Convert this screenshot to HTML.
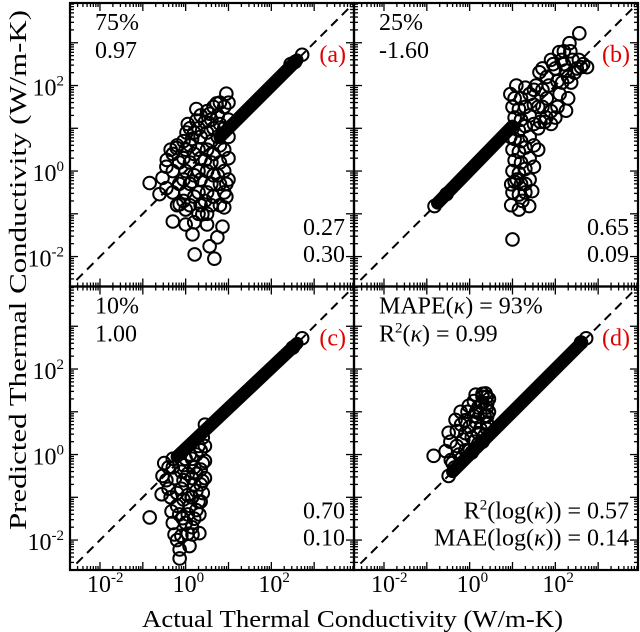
<!DOCTYPE html>
<html><head><meta charset="utf-8"><style>
html,body{margin:0;padding:0;background:#fff;}
svg{display:block;font-family:"Liberation Serif",serif;}
</style></head><body>
<svg id="chart" width="640" height="632" viewBox="0 0 640 632"></svg>
<script>
// data in log10(W/m-K)
const tickExps = [-2, 0, 2];
const allDecades = [-3, -2, -1, 0, 1, 2, 3];
const panelLetters = ["(a)", "(b)", "(c)", "(d)"];
const panelTopText = [["75%", "0.97"], ["25%", "-1.60"], ["10%", "1.00"], ["MAPE(<tspan font-style='italic'>κ</tspan>) = 93%", "R<tspan dy='-9' font-size='15'>2</tspan><tspan dy='9'>(</tspan><tspan font-style='italic'>κ</tspan>) = 0.99"]];
const panelBottomText = [["0.27", "0.30"], ["0.65", "0.09"], ["0.70", "0.10"], ["R<tspan dy='-9' font-size='15'>2</tspan><tspan dy='9'>(log(</tspan><tspan font-style='italic'>κ</tspan>)) = 0.57", "MAE(log(<tspan font-style='italic'>κ</tspan>)) = 0.14"]];
const bandA = [[0.8, 0.8], [2.6, 2.6]];
const bandB = [[-0.75, -0.75], [1.0, 1.05]];
const bandC = [[-0.2, -0.05], [2.6, 2.6]];
const bandD = [[-0.4, -0.4], [2.6, 2.6]];
const ptsAx = [-0.84,-0.44,-0.54,-0.61,-0.30,0.0,0.16,0.21,0.56,0.67,0.74,0.86,0.9,0.95,0.95,0.25,0.02,-0.21,0.56,0.72,-0.14,0.39,-0.3,-0.3,-0.3,0.0,0.0,0.0,0.0,0.3,0.3,0.3,0.3,0.3,0.6,0.6,0.6,0.6,0.6,0.9,0.9,0.9,0.9,0.9,0.15,0.45,0.75,0.15,0.45,0.75,-0.15,-0.15,0.45,0.75,1.0,1.0,1.0,0.2,0.5,
 -0.45,-0.45,-0.2,-0.2,-0.05,-0.05,-0.05,-0.05,0.1,0.1,0.1,0.1,0.1,0.2,0.2,0.2,0.2,0.35,0.35,0.35,0.35,0.35,0.5,0.5,0.5,0.5,0.5,0.5,0.65,0.65,0.65,0.65,0.65,0.8,0.8,0.8,0.8,0.8,0.8,1.0,1.0,0.95,0.25,0.05,-0.35,
 2.72,2.55,2.45];
const ptsAy = [-0.28,0.26,-0.16,-0.54,-1.18,-1.25,-1.48,-1.95,-1.76,-2.05,-1.55,-1.3,-0.85,-0.3,1.81,1.18,0.9,0.54,1.34,1.58,-0.78,-1.01,0.0,-0.5,0.4,0.5,0.0,-0.5,-0.9,1.0,0.5,0.0,-0.5,-1.0,1.2,0.7,0.2,-0.3,-0.8,1.5,1.0,0.5,0.0,-0.5,0.75,0.25,-0.1,-0.25,-0.7,0.8,0.2,-0.3,1.15,1.3,1.2,0.3,-0.2,-1.2,-1.25,
 0.1,-0.4,0.6,-0.8,0.7,0.3,-0.2,-0.7,1.0,0.6,0.2,-0.3,-0.8,0.9,0.4,-0.1,-0.6,1.3,0.8,0.3,-0.2,-0.8,1.4,0.9,0.5,0.0,-0.5,-1.0,1.5,1.0,0.4,-0.1,-0.6,1.6,1.1,0.6,0.2,-0.3,-0.8,1.6,0.8,-0.6,1.45,1.1,0.5,
 2.72,2.55,2.5];
const ptsBx = [-0.82,-0.54,1.0,1.23,1.39,0.97,1.46,1.63,2.09,2.56,2.33,2.74,2.6,2.25,2.0,1.79,1.09,2.16,2.37,1.0,1.0,1.0,1.0,1.0,1.2,1.2,1.2,1.2,1.2,1.4,1.4,1.4,1.4,1.4,0.95,0.95,1.1,1.3,1.6,1.6,1.6,1.55,1.8,1.8,1.9,2.0,2.1,2.2,2.3,2.4,2.5,1.7,1.9,2.2,1.75,0.97,1.15,
 1.05,1.05,1.05,1.05,1.05,1.15,1.15,1.15,1.15,1.15,1.3,1.3,1.3,1.3,1.3,1.3,1.5,1.5,1.5,1.5,1.5,1.7,1.7,1.85,1.95,2.05,2.15,2.25,2.35,2.45,2.55,2.65,1.65,1.9,2.05,2.3];
const ptsBy = [-0.82,-0.54,-1.6,-0.7,-0.82,-0.31,-0.47,2.31,2.78,3.22,2.99,2.43,2.43,1.41,1.25,1.25,2.0,2.07,2.07,1.5,1.0,0.5,0.0,-0.5,1.7,1.2,0.7,0.2,-0.3,1.8,1.3,0.8,0.3,-0.2,1.8,0.8,-0.2,-0.5,1.5,1.0,0.5,2.0,2.2,1.7,1.4,2.4,1.8,2.5,2.2,2.6,2.4,2.4,2.6,2.8,1.15,-0.8,-0.9,
 1.7,1.25,0.75,0.25,-0.25,1.45,0.95,0.45,-0.05,-0.55,1.95,1.5,1.05,0.55,0.05,-0.3,1.9,1.55,1.1,0.6,0.1,1.9,1.5,2.0,2.5,2.1,2.6,2.35,2.8,2.3,2.6,2.5,1.15,1.1,1.5,1.7];
const ptsCx = [-0.54,-0.56,-0.84,-0.33,-0.26,-0.14,-0.14,0.09,0.32,0.16,0.32,-0.07,-0.3,0.39,0.14,-0.4,-0.1,0.2,0.4,-0.4,-0.1,0.2,0.4,-0.2,0.1,0.3,-0.3,0.0,0.3,0.4,0.1,0.0,0.2,-0.1,
 -0.5,-0.45,-0.35,-0.25,-0.2,-0.15,-0.05,-0.05,-0.05,0.05,0.05,0.05,0.05,0.15,0.15,0.15,0.25,0.25,0.25,0.25,0.35,0.35,0.35,0.35,0.45,0.45,0.45,0.45,-0.3,-0.2,0.15,
 2.72,2.5];
const ptsCy = [-0.5,-0.93,-1.47,-1.33,-1.87,-2.22,-2.43,-2.14,-1.84,-1.87,-1.4,-1.49,-0.3,-0.62,-1.0,-0.3,-0.4,-0.3,-0.2,-0.8,-0.8,-0.7,-0.9,-1.2,-1.2,-1.1,-0.1,-0.1,0.2,0.4,0.0,-1.6,-1.5,-1.9,
 -0.2,-0.6,-1.0,-0.55,-0.9,-1.4,-0.25,-0.6,-1.05,-0.45,-0.95,-1.4,-1.85,-0.1,-0.55,-1.0,0.0,-0.45,-0.85,-1.3,0.1,-0.35,-0.7,-1.1,0.7,0.2,-0.15,-0.55,-1.6,-2.0,-1.7,
 2.72,2.5];
const ptsDx = [-0.84,-0.49,-0.56,-0.49,-0.44,-0.21,0.14,0.37,-0.33,-0.02,0.41,0.41,0.41,-0.3,-0.1,0.1,0.3,0.0,0.2,0.35,0.4,-0.2,0.1,0.3,-0.35,0.4,0.2,-0.1,0.4,0.3,
 -0.45,-0.4,-0.3,-0.25,-0.15,-0.1,-0.05,0.0,0.05,0.1,0.15,0.2,0.25,0.25,0.3,0.35,0.4,0.45,0.45,-0.2,0.05,0.15,
 2.72,2.6];
const ptsDy = [-0.03,-0.5,0.08,0.51,-0.13,1.0,1.4,1.43,0.81,1.14,1.2,0.9,0.6,0.2,0.5,0.9,1.2,0.1,0.5,0.9,0.6,-0.1,0.3,0.3,-0.3,1.1,1.1,0.8,1.35,1.42,
 0.3,-0.2,0.55,0.0,0.35,0.1,1.0,0.65,0.4,1.25,0.75,0.25,0.95,0.6,1.35,0.45,0.75,1.0,1.3,0.7,0.05,1.0,
 2.72,2.62];

const svg = document.getElementById('chart');
const NS = 'http://www.w3.org/2000/svg';
const X0 = 70, Y0 = 3, PW = 284, PH = 283.5, LMIN = -2.7, LMAX = 3.93;
function mk(tag, attrs, parent) {
  const e = document.createElementNS(NS, tag);
  for (const k in attrs) e.setAttribute(k, attrs[k]);
  (parent || svg).appendChild(e);
  return e;
}
function xs(i, v) { const c = i % 2; return X0 + c * PW + (v - LMIN) / (LMAX - LMIN) * PW; }
function ys(i, v) { const r = Math.floor(i / 2); return Y0 + r * PH + (LMAX - v) / (LMAX - LMIN) * PH; }
const bands = [bandA, bandB, bandC, bandD];
const px = [ptsAx, ptsBx, ptsCx, ptsDx];
const py = [ptsAy, ptsBy, ptsCy, ptsDy];

for (let i = 0; i < 4; i++) {
  const c = i % 2, r = Math.floor(i / 2);
  const L = X0 + c * PW, T = Y0 + r * PH, R = L + PW, B = T + PH;
  const g = mk('g', {});
  
  
  const clipId = 'clip' + i;
  const cp = mk('clipPath', { id: clipId }, g);
  mk('rect', { x: L, y: T, width: PW, height: PH }, cp);
  const pg = mk('g', { 'clip-path': 'url(#' + clipId + ')' }, g);
  const dl = mk('line', { x1: xs(i, -2.55), y1: ys(i, -2.55), x2: xs(i, 3.8), y2: ys(i, 3.8), stroke: '#000', 'stroke-width': 2, 'stroke-dasharray': '9,6' }, pg);
  
  
  const bd = bands[i];
  const bl = mk('line', { x1: xs(i, bd[0][0]), y1: ys(i, bd[0][1]), x2: xs(i, bd[1][0]), y2: ys(i, bd[1][1]), stroke: '#000', 'stroke-width': 13, 'stroke-linecap': 'round' }, pg);
  
  
  for (let k = 0; k < px[i].length; k++) {
    const ci = mk('circle', { cx: xs(i, px[i][k]), cy: ys(i, py[i][k]), r: 6.3, fill: 'none', stroke: '#000', 'stroke-width': 2 }, pg);
    
    
  }
  for (const d of allDecades) {
    for (let m = 1; m <= 9; m++) {
      const v = d + Math.log10(m);
      if (v < LMIN || v > LMAX) continue;
      const len = m === 1 ? 8 : 4;
      const xx = xs(i, v), yy = ys(i, v);
      mk('line', { x1: xx, y1: B, x2: xx, y2: B - len, stroke: '#000', 'stroke-width': 1.3 }, g);
      mk('line', { x1: xx, y1: T, x2: xx, y2: T + len, stroke: '#000', 'stroke-width': 1.3 }, g);
      mk('line', { x1: L, y1: yy, x2: L + len, y2: yy, stroke: '#000', 'stroke-width': 1.3 }, g);
      mk('line', { x1: R, y1: yy, x2: R - len, y2: yy, stroke: '#000', 'stroke-width': 1.3 }, g);
    }
  }
  const fr = mk('rect', { x: L, y: T, width: PW, height: PH, fill: 'none', stroke: '#000', 'stroke-width': 2.2 }, g);
  
  
  const t1 = mk('text', { x: L + 25, y: T + 27, 'font-size': 24 }, g); t1.innerHTML = panelTopText[i][0];
  
  
  const t2 = mk('text', { x: L + 25, y: T + 55, 'font-size': 24 }, g); t2.innerHTML = panelTopText[i][1];
  
  
  const lt = mk('text', { x: R - 8, y: T + 59, 'font-size': 24, fill: '#e00000', 'text-anchor': 'end' }, g); lt.textContent = panelLetters[i];
  
  
  const b1 = mk('text', { x: R - 9, y: T + 232, 'font-size': 24, 'text-anchor': 'end' }, g); b1.innerHTML = panelBottomText[i][0];
  
  
  const b2 = mk('text', { x: R - 9, y: T + 259, 'font-size': 24, 'text-anchor': 'end' }, g); b2.innerHTML = panelBottomText[i][1];
  
  
  if (c === 0) {
    for (const e of tickExps) {
      const tl = mk('text', { x: L - 6, y: ys(i, e) + 10, 'font-size': 24, 'text-anchor': 'end' }, g);
      tl.innerHTML = '10<tspan dy="-10" font-size="15">' + e + '</tspan>';
      
      
    }
  }
  if (r === 1) {
    for (const e of tickExps) {
      const tl = mk('text', { x: xs(i, e) - 13, y: 592, 'font-size': 24 }, g);
      tl.innerHTML = '10<tspan dy="-10" font-size="15">' + e + '</tspan>';
      
      
    }
  }
}
const xt = mk('text', { x: 142, y: 627, 'font-size': 24, textLength: 421, lengthAdjust: 'spacingAndGlyphs' });
xt.textContent = 'Actual Thermal Conductivity (W/m-K)';


const yt = mk('text', { x: -530, y: 26, 'font-size': 24, textLength: 520, lengthAdjust: 'spacingAndGlyphs', transform: 'rotate(-90)' });
yt.textContent = 'Predicted Thermal Conductivity (W/m-K)';


</script>
</body></html>
